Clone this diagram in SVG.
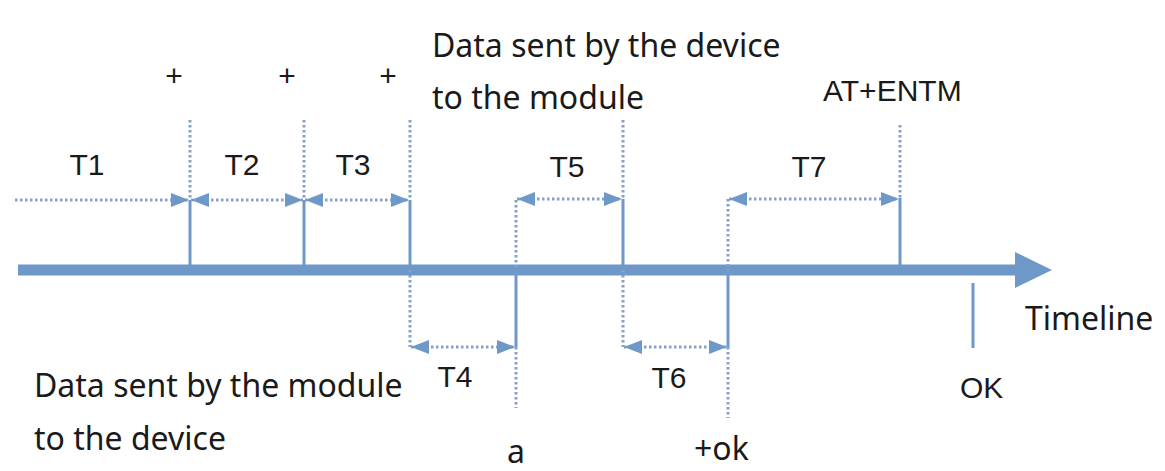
<svg xmlns="http://www.w3.org/2000/svg" width="1165" height="471" viewBox="0 0 1165 471">
  <defs>
    <style>
      .solid { stroke: #6e98c8; stroke-width: 3; fill: none; }
      .dot { stroke: #86a2c8; stroke-width: 3; stroke-dasharray: 2.5 2.5; fill: none; }
      .span { stroke: #86a2c8; stroke-width: 3; stroke-dasharray: 2.5 2.5; fill: none; }
      .lbl { font-family: "Liberation Sans", Arial, sans-serif; font-size: 30px; fill: #1a1a1a; }
      .txt { font-family: "Noto Sans", "Open Sans", sans-serif; font-size: 32px; fill: #1a1a1a; }
      .mid { text-anchor: middle; }
    </style>
    <marker id="ah" viewBox="0 0 18 14" markerUnits="userSpaceOnUse" markerWidth="18" markerHeight="14" refX="18" refY="7" orient="auto-start-reverse">
      <path d="M0,0 L18,7 L0,14 z" fill="#6e98c8"/>
    </marker>
  </defs>
  <rect width="1165" height="471" fill="#ffffff"/>

  <g id="timeline-axis">
    <line x1="18" y1="270" x2="1018" y2="270" stroke="#6e98c8" stroke-width="11"/>
    <polygon points="1015,252 1052,270 1015,288" fill="#6e98c8"/>
    <text class="txt" x="1025" y="330">Timeline</text>
  </g>

  <g id="connectors">
    <!-- vertical event lines -->
    <line class="dot" x1="190" y1="120" x2="190" y2="200"/>
    <line class="solid" x1="190" y1="200" x2="190" y2="270"/>
    <line class="dot" x1="304" y1="120" x2="304" y2="200"/>
    <line class="solid" x1="304" y1="200" x2="304" y2="270"/>
    <line class="dot" x1="410" y1="120" x2="410" y2="200"/>
    <line class="solid" x1="410" y1="200" x2="410" y2="270"/>
    <line class="dot" x1="410" y1="270" x2="410" y2="347"/>
    <line class="dot" x1="516" y1="200" x2="516" y2="270"/>
    <line class="solid" x1="516" y1="270" x2="516" y2="347"/>
    <line class="dot" x1="516" y1="347" x2="516" y2="408"/>
    <line class="dot" x1="623" y1="120" x2="623" y2="199"/>
    <line class="solid" x1="623" y1="199" x2="623" y2="270"/>
    <line class="dot" x1="623" y1="270" x2="623" y2="347"/>
    <line class="dot" x1="728" y1="199" x2="728" y2="270"/>
    <line class="solid" x1="728" y1="270" x2="728" y2="347"/>
    <line class="dot" x1="728" y1="347" x2="728" y2="418"/>
    <line class="dot" x1="900" y1="125" x2="900" y2="198"/>
    <line class="solid" x1="900" y1="198" x2="900" y2="270"/>
    <line class="solid" x1="973" y1="283" x2="973" y2="348"/>
    <!-- interval arrows -->
    <line class="span" x1="15" y1="200" x2="189" y2="200" marker-end="url(#ah)"/>
    <line class="span" x1="191" y1="200" x2="303" y2="200" marker-start="url(#ah)" marker-end="url(#ah)"/>
    <line class="span" x1="305" y1="200" x2="409" y2="200" marker-start="url(#ah)" marker-end="url(#ah)"/>
    <line class="span" x1="411" y1="347" x2="515" y2="347" marker-start="url(#ah)" marker-end="url(#ah)"/>
    <line class="span" x1="517" y1="199" x2="622" y2="199" marker-start="url(#ah)" marker-end="url(#ah)"/>
    <line class="span" x1="624" y1="347" x2="727" y2="347" marker-start="url(#ah)" marker-end="url(#ah)"/>
    <line class="span" x1="729" y1="199" x2="899" y2="199" marker-start="url(#ah)" marker-end="url(#ah)"/>
  </g>

  <g id="plus-1"><text class="lbl mid" x="174" y="86">+</text></g>
  <g id="plus-2"><text class="lbl mid" x="287" y="86">+</text></g>
  <g id="plus-3"><text class="lbl mid" x="388" y="86">+</text></g>

  <g id="T1"><text class="lbl mid" x="87" y="175">T1</text></g>
  <g id="T2"><text class="lbl mid" x="242" y="175">T2</text></g>
  <g id="T3"><text class="lbl mid" x="353" y="175">T3</text></g>
  <g id="T4"><text class="lbl mid" x="455" y="387">T4</text></g>
  <g id="T5"><text class="lbl mid" x="567" y="177">T5</text></g>
  <g id="T6"><text class="lbl mid" x="669" y="388">T6</text></g>
  <g id="T7"><text class="lbl mid" x="809" y="177">T7</text></g>

  <g id="device-to-module">
    <text class="txt" x="432" y="57">Data sent by the device</text>
    <text class="txt" x="432" y="109">to the module</text>
  </g>
  <g id="module-to-device">
    <text class="txt" x="34" y="397">Data sent by the module</text>
    <text class="txt" x="34" y="450">to the device</text>
  </g>

  <g id="at-entm"><text class="lbl" x="823" y="101">AT+ENTM</text></g>
  <g id="ok"><text class="lbl" x="960" y="398">OK</text></g>
  <g id="a"><text class="txt" x="507" y="463">a</text></g>
  <g id="plus-ok"><text class="txt" x="694" y="460">+ok</text></g>
</svg>
